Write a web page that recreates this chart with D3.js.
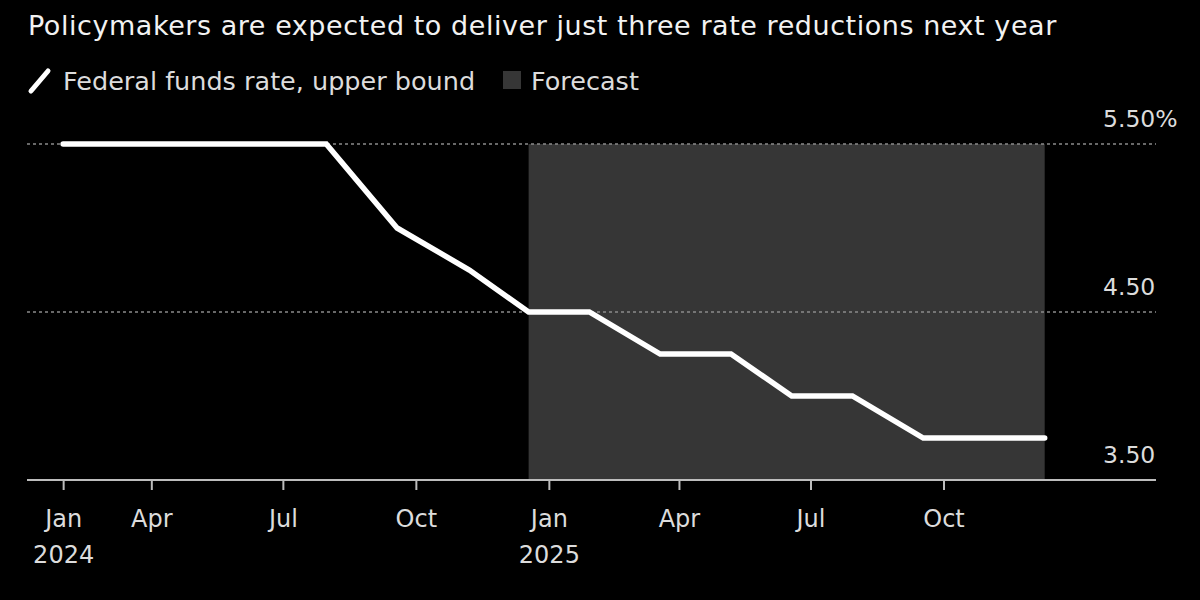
<!DOCTYPE html>
<html>
<head>
<meta charset="utf-8">
<script src="https://cdn.jsdelivr.net/npm/d3@7"></script>
<style>
  html, body { margin: 0; padding: 0; background: #000; }
  svg { display: block; }
  text { font-family: "DejaVu Sans", sans-serif; }
</style>
</head>
<body>
<svg id="chart" width="1200" height="600"></svg>
<script>
// ---- Data ----
const meetingDates = [
  "2024-01-31", "2024-03-20", "2024-05-01", "2024-06-12", "2024-07-31",
  "2024-09-18", "2024-11-07", "2024-12-18",
  "2025-01-29", "2025-03-19", "2025-05-07", "2025-06-18", "2025-07-30",
  "2025-09-17", "2025-10-29", "2025-12-10"
];
const upperBound = [
  5.50, 5.50, 5.50, 5.50, 5.50,
  5.00, 4.75, 4.50,
  4.50, 4.25, 4.25, 4.00, 4.00,
  3.75, 3.75, 3.75
];
const forecastRange = ["2024-12-18", "2025-12-10"];
const tickDates = ["2024-01-31", "2024-04-01", "2024-07-01", "2024-10-01",
                   "2025-01-01", "2025-04-01", "2025-07-01", "2025-10-01"];
const tickLabels = [["Jan", "2024"], ["Apr"], ["Jul"], ["Oct"],
                    ["Jan", "2025"], ["Apr"], ["Jul"], ["Oct"]];
const yTicks = [3.5, 4.5, 5.5];
const yTickLabels = ["3.50", "4.50", "5.50%"];
const title = "Policymakers are expected to deliver just three rate reductions next year";
const legendItems = ["Federal funds rate, upper bound", "Forecast"];

// ---- Setup ----
const parse = d3.utcParse("%Y-%m-%d");
const svg = d3.select("#chart");
const W = 1200, H = 600;
svg.append("rect").attr("width", W).attr("height", H).attr("fill", "#000");

const x = d3.scaleUtc()
  .domain([parse("2024-01-06"), parse("2026-02-25")])
  .range([27, 1156]);
const y = d3.scaleLinear().domain([3.5, 5.5]).range([480, 144]);

const data = meetingDates.map((d, i) => ({ date: parse(d), value: upperBound[i] }));

// Title
svg.append("text")
  .attr("x", 28).attr("y", 35)
  .attr("fill", "#f2f2f2")
  .attr("font-size", 27)
  .attr("letter-spacing", 0.55)
  .text(title);

// Legend
const lg = svg.append("g");
lg.append("line")
  .attr("x1", 31).attr("y1", 91).attr("x2", 48).attr("y2", 71)
  .attr("stroke", "#fff").attr("stroke-width", 5).attr("stroke-linecap", "round");
lg.append("text").attr("x", 63).attr("y", 90)
  .attr("fill", "#dcdcdc").attr("font-size", 25.5).text(legendItems[0]);
lg.append("rect").attr("x", 503).attr("y", 71).attr("width", 18).attr("height", 18)
  .attr("fill", "#363636");
lg.append("text").attr("x", 531).attr("y", 90)
  .attr("fill", "#dcdcdc").attr("font-size", 25.5).text(legendItems[1]);

// Forecast shading
svg.append("rect")
  .attr("x", x(parse(forecastRange[0])))
  .attr("y", y(5.5))
  .attr("width", x(parse(forecastRange[1])) - x(parse(forecastRange[0])))
  .attr("height", y(3.5) - y(5.5))
  .attr("fill", "#363636");

// Gridlines
svg.append("g").selectAll("line")
  .data(yTicks.filter(v => v !== 3.5))
  .join("line")
  .attr("x1", 27).attr("x2", 1156)
  .attr("y1", d => y(d)).attr("y2", d => y(d))
  .attr("stroke", "#8a8a8a").attr("stroke-width", 1.5)
  .attr("stroke-dasharray", "3,3");

// Y labels
svg.append("g").selectAll("text")
  .data(yTicks)
  .join("text")
  .attr("x", 1103)
  .attr("y", d => y(d) - 17)
  .attr("fill", "#dcdcdc")
  .attr("font-size", 23.5)
  .text((d, i) => yTickLabels[i]);

// X axis
const xAxis = d3.axisBottom(x)
  .tickValues(tickDates.map(parse))
  .tickSize(10)
  .tickFormat("");
const gx = svg.append("g").attr("transform", "translate(0,480)").call(xAxis);
gx.select(".domain").attr("stroke", "#bdbdbd").attr("stroke-width", 2)
  .attr("d", "M27,0H1156");
gx.selectAll(".tick line").attr("stroke", "#bdbdbd").attr("stroke-width", 2);
gx.selectAll(".tick").each(function(d, i) {
  const t = d3.select(this).append("text")
    .attr("fill", "#dcdcdc")
    .attr("font-size", 24)
    .attr("text-anchor", "middle");
  tickLabels[i].forEach((s, j) => {
    t.append("tspan").attr("x", 0).attr("y", 47 + j * 36).text(s);
  });
});

// Line
const line = d3.line().x(d => x(d.date)).y(d => y(d.value));
svg.append("path")
  .datum(data)
  .attr("d", line)
  .attr("fill", "none")
  .attr("stroke", "#fff")
  .attr("stroke-width", 5.5)
  .attr("stroke-linecap", "round")
  .attr("stroke-linejoin", "miter");
</script>
</body>
</html>
